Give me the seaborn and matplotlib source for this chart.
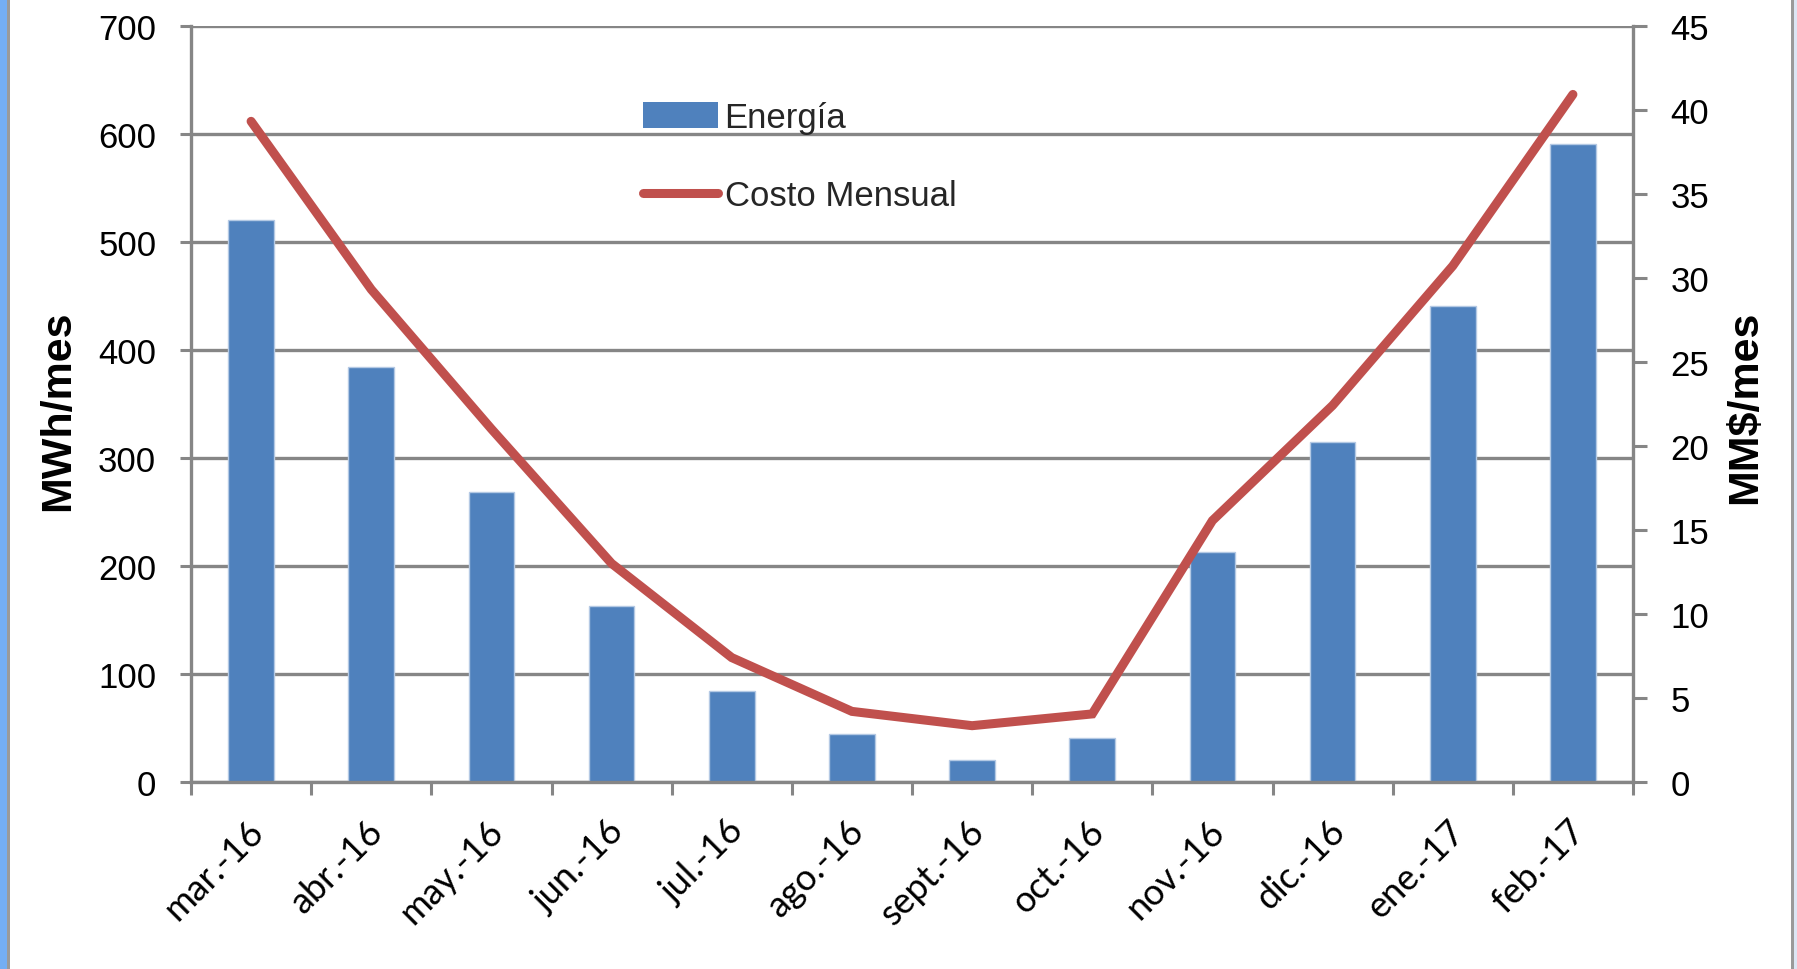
import numpy as np
import pandas as pd
import matplotlib
matplotlib.use("Agg")
import matplotlib.pyplot as plt
from matplotlib import font_manager
from matplotlib.patches import Rectangle
from matplotlib.lines import Line2D
from matplotlib.transforms import ScaledTranslation
import seaborn as sns

# Monthly energy (MWh) and monthly cost (MM$)
meses = ["mar.-16", "abr.-16", "may.-16", "jun.-16", "jul.-16", "ago.-16",
         "sept.-16", "oct.-16", "nov.-16", "dic.-16", "ene.-17", "feb.-17"]
energia = [520, 384, 268, 163, 84, 44, 20, 41, 213, 315, 440, 590]
costo = [39.3, 29.3, 21.0, 13.0, 7.4, 4.2, 3.35, 4.05, 15.55, 22.4, 30.7, 40.9]

left_ticks = [0, 100, 200, 300, 400, 500, 600, 700]
right_ticks = [0, 5, 10, 15, 20, 25, 30, 35, 40, 45]

df = pd.DataFrame({"mes": meses, "energia": energia, "costo": costo})

sns.set_theme(style="white")

installed = {f.name for f in font_manager.fontManager.ttflist}
narrow = "Liberation Sans Narrow" if "Liberation Sans Narrow" in installed else "Liberation Sans"
plt.rcParams["font.family"] = [narrow, "DejaVu Sans"]
TICK_FS = 28 if narrow == "Liberation Sans Narrow" else 25

BLUE = "#4F81BD"
RED = "#C0504D"
GREY = "#868686"

fig = plt.figure(figsize=(17.97, 9.70), dpi=100)
fig.patch.set_facecolor("white")

# window frame strips at both edges
fig.patches.append(Rectangle((0, 0), 7 / 1797, 1, transform=fig.transFigure,
                             facecolor="#74AEF4", edgecolor="none", zorder=-5))
fig.patches.append(Rectangle((7 / 1797, 0), 2.5 / 1797, 1, transform=fig.transFigure,
                             facecolor="#9A9A9A", edgecolor="none", zorder=-5))
fig.patches.append(Rectangle((1791 / 1797, 0), 2.5 / 1797, 1, transform=fig.transFigure,
                             facecolor="#9A9A9A", edgecolor="none", zorder=-5))
fig.patches.append(Rectangle((1793.5 / 1797, 0), 4 / 1797, 1, transform=fig.transFigure,
                             facecolor="#DCE6F4", edgecolor="none", zorder=-5))

ax = fig.add_axes([191 / 1797, 1 - 783 / 970, (1633 - 191) / 1797, (783 - 26.5) / 970])
ax.set_facecolor("none")

sns.barplot(data=df, x="mes", y="energia", ax=ax, color=BLUE, width=0.38,
            saturation=1, edgecolor="#B4C9E4", linewidth=1, zorder=3)

ax2 = ax.twinx()
sns.lineplot(data=df, x="mes", y="costo", ax=ax2, color=RED, linewidth=6.5,
             sort=False, solid_capstyle="round", solid_joinstyle="miter", zorder=4)

ax.set_xlim(-0.5, len(meses) - 0.5)
ax.set_ylim(0, 700)
ax2.set_ylim(0, 45)
ax.set_yticks(left_ticks)
ax2.set_yticks(right_ticks)

# gridlines from the left scale
ax.yaxis.grid(True, color=GREY, linewidth=2.4, zorder=0)
ax.set_axisbelow(True)

for a in (ax, ax2):
    for s in a.spines.values():
        s.set_visible(False)
ax.spines["left"].set_visible(True)
ax.spines["bottom"].set_visible(True)
ax2.spines["right"].set_visible(True)
for s in (ax.spines["left"], ax.spines["bottom"], ax2.spines["right"]):
    s.set_color(GREY)
    s.set_linewidth(2.4)
ax.spines["bottom"].set_zorder(5)

ax.tick_params(axis="y", which="major", direction="out", length=8, width=2.2,
               color=GREY, labelsize=TICK_FS, pad=17, labelcolor="black", left=True)
ax2.tick_params(axis="y", which="major", direction="out", length=10, width=2.2,
                color=GREY, labelsize=TICK_FS, pad=17, labelcolor="black", right=True)

# category boundary ticks on x, labels at category centers
ax.set_xticks(np.arange(-0.5, len(meses), 1.0), minor=True)
ax.tick_params(axis="x", which="minor", direction="out", length=9.5, width=2.2,
               color=GREY, bottom=True)
ax.tick_params(axis="x", which="major", length=0, pad=31)
ax.set_xticks(range(len(meses)))
ax.set_xticklabels(meses, rotation=45, ha="right", va="center",
                   rotation_mode="anchor", family=["Lato", "DejaVu Sans"],
                   fontsize=26, color="black")
offset = ScaledTranslation(7 / 100, 0, fig.dpi_scale_trans)
for lab in ax.get_xticklabels():
    lab.set_transform(lab.get_transform() + offset)

ax.set_xlabel("")
ax.set_ylabel("MWh/mes", family=["Liberation Sans", "DejaVu Sans"],
              fontweight="bold", fontsize=31, color="black", va="center", rotation=90)
ax.yaxis.set_label_coords((58.5 - 191) / 1442, (783 - 411) / 756.5)
ax2.set_ylabel("MM$/mes", family=["Liberation Sans", "DejaVu Sans"],
               fontweight="bold", fontsize=31, color="black", va="center", rotation=90)
ax2.yaxis.set_label_coords((1745 - 191) / 1442, (783 - 407) / 756.5)

handles = [Rectangle((0, 0), 1, 1, facecolor=BLUE, edgecolor="none"),
           Line2D([], [], color=RED, linewidth=6.5, solid_capstyle="round")]
ax2.legend(handles, ["Energía", "Costo Mensual"], loc="upper left",
           bbox_to_anchor=(643 / 1797, 1 - 102 / 970), bbox_transform=fig.transFigure,
           frameon=False, fontsize=TICK_FS, handlelength=2.15, handleheight=0.75,
           handletextpad=0.2, labelspacing=1.3, borderpad=0, borderaxespad=0)

fig.savefig("out.png", dpi=100, facecolor="white")
